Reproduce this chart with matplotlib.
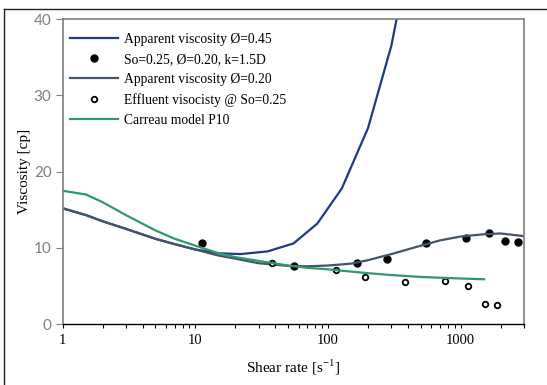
import matplotlib
matplotlib.use('Agg')
import matplotlib.pyplot as plt
from matplotlib.lines import Line2D
from matplotlib.ticker import LogLocator, FixedLocator, NullFormatter

# apparent viscosity, porosity 0.45
x_045 = [1, 1.5, 2, 3, 5, 7, 10, 15, 22, 35, 55, 83, 127, 200, 300, 450]
y_045 = [15.2, 14.3, 13.5, 12.5, 11.2, 10.5, 9.8, 9.3, 9.2, 9.55, 10.6, 13.2, 17.8, 25.7, 36.5, 52.0]

# measured points So=0.25, porosity 0.20
x_so = [11.2, 55.5, 164, 277, 550, 1094, 1630, 2170, 2700]
y_so = [10.7, 7.7, 8.0, 8.6, 10.7, 11.35, 11.9, 10.9, 10.75]

# apparent viscosity, porosity 0.20
x_020 = [1, 1.5, 2, 3, 5, 7, 10, 15, 20, 30, 50, 70, 100, 150, 200, 300, 500, 700, 1000, 1500, 2000, 3000]
y_020 = [15.2, 14.3, 13.5, 12.5, 11.2, 10.5, 9.8, 9.0, 8.6, 8.0, 7.65, 7.6, 7.7, 7.95, 8.4, 9.2, 10.3, 11.0, 11.5, 11.8, 11.9, 11.55]

# effluent viscosity
x_eff = [38, 114, 189, 383, 760, 1133, 1514, 1874]
y_eff = [8.0, 7.1, 6.15, 5.55, 5.7, 5.05, 2.65, 2.5]

# Carreau model P10
x_car = [1, 1.5, 2, 3, 5, 7, 10, 15, 20, 30, 50, 70, 100, 150, 200, 300, 500, 700, 1000, 1500]
y_car = [17.5, 17.0, 16.0, 14.3, 12.3, 11.2, 10.3, 9.3, 8.8, 8.3, 7.7, 7.4, 7.2, 6.9, 6.7, 6.45, 6.2, 6.1, 6.0, 5.9]

serif = ['Liberation Serif', 'DejaVu Serif']

fig = plt.figure(figsize=(5.47, 3.85), dpi=100)
ax = fig.add_axes([0.1146, 0.1577, 0.8434, 0.7929])

ax.plot(x_045, y_045, color='#1F3A80', lw=1.6, label='Apparent viscosity Ø=0.45')
ax.plot(x_so, y_so, 'o', color='black', ms=5, ls='none', label='So=0.25, Ø=0.20, k=1.5D')
ax.plot(x_020, y_020, color='#44546A', lw=1.6, label='Apparent viscosity Ø=0.20')
ax.plot(x_eff, y_eff, 'o', mfc='white', mec='black', mew=1.3, ms=4, ls='none',
        label='Effluent visocisty @ So=0.25')
ax.plot(x_car, y_car, color='#2E9A6C', lw=1.6, label='Carreau model P10')

ax.set_xscale('log')
ax.set_xlim(1, 3000)
ax.set_ylim(0, 40)
ax.yaxis.set_major_locator(FixedLocator([0, 10, 20, 30, 40]))
ax.xaxis.set_major_locator(FixedLocator([1, 10, 100, 1000]))
ax.xaxis.set_minor_locator(LogLocator(base=10, subs=range(2, 10)))
ax.xaxis.set_minor_formatter(NullFormatter())
ax.set_xticklabels(['1', '10', '100', '1000'], family=serif, fontsize=10.5)
ax.set_yticklabels(['0', '10', '20', '30', '40'], family=['Lato', 'DejaVu Sans'],
                   fontsize=11, color='#7F7F7F')

ax.tick_params(axis='x', which='both', direction='out', length=3, width=0.8, color='black', pad=4)
ax.tick_params(axis='y', direction='out', length=5, width=0.8, color='#7F7F7F', pad=3)

for s in ['left', 'top', 'right']:
    ax.spines[s].set_color('#7F7F7F')
    ax.spines[s].set_linewidth(1.2)
ax.spines['bottom'].set_color('black')
ax.spines['bottom'].set_linewidth(1.0)

ax.set_xlabel('Shear rate [s$^{\\mathregular{-1}}$]', family=serif, fontsize=11, labelpad=8)
ax.set_ylabel('Viscosity [cp]', family=serif, fontsize=11, labelpad=2)

leg = ax.legend(loc='upper left', frameon=False, prop={'family': serif, 'size': 9.8},
                handlelength=3.5, handletextpad=0.45, labelspacing=0.52,
                borderaxespad=0.0, borderpad=0.0, bbox_to_anchor=(0.016, 0.955))

# outer frame of the picture
fig.add_artist(Line2D([4 / 547, 1.0], [1 - 9 / 385, 1 - 9 / 385], transform=fig.transFigure,
                      color='#222222', lw=1.0))
fig.add_artist(Line2D([4 / 547, 4 / 547], [0.0, 1 - 9 / 385], transform=fig.transFigure,
                      color='#222222', lw=1.0))

fig.savefig('out.png', dpi=100)
